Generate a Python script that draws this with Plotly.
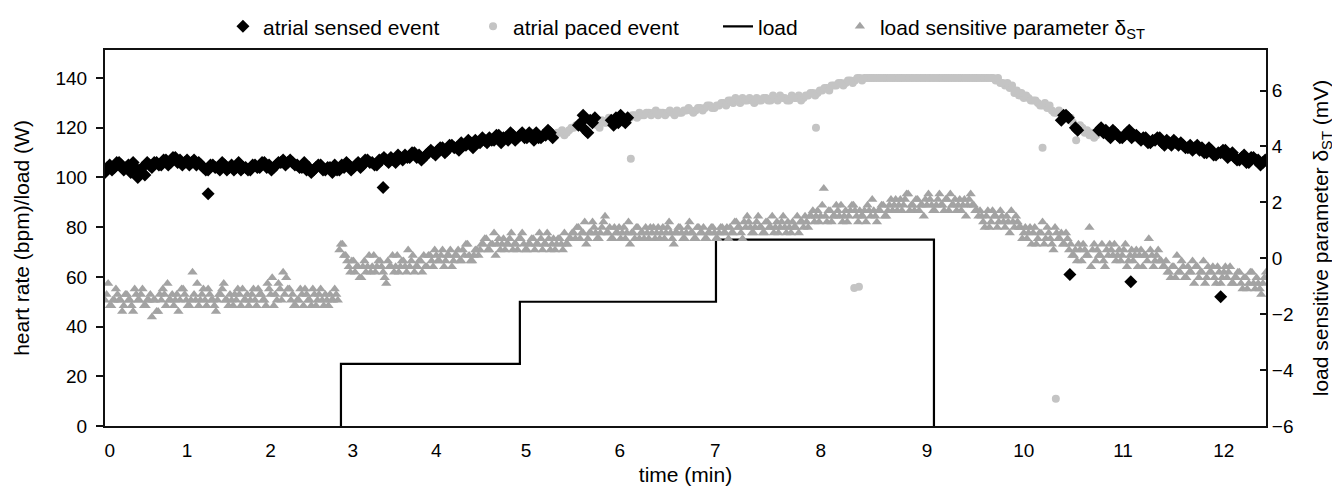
import plotly.graph_objects as go

# ---- x axis: beat index, labelled in minutes ----
minute_labels = [str(m) for m in range(13)]
minute_beats = [6, 105, 212, 317, 424, 539, 659, 781, 916, 1052, 1176, 1303, 1432]
beat_max = 1486

# ---- heart rate (bpm), two interleaved sample sets, every 6 beats ----
hr_step = 6
hr_values_a = [
    102, 105, 104, 106, 103, 105, 106, 100, 104, 106,
    104, 106, 105, 107, 106, 108, 107, 106, 105, 107,
    106, 104, 103, 105, 104, 106, 103, 105, 104, 103,
    104, 103, 105, 104, 106, 105, 104, 106, 107, 106,
    106, 105, 104, 103, 102, 104, 105, 103, 104, 105,
    103, 104, 105, 104, 106, 105, 107, 106, 105, 107,
    107, 108, 106, 108, 109, 108, 110, 109, 108, 110,
    110, 111, 112, 111, 113, 112, 114, 113, 114, 115,
    114, 115, 116, 115, 117, 116, 115, 117, 116, 118,
    116, 117, 118, 116, 117, 118, 117, 118, 117, 119,
    120, 121, 125, 118, 122, 121, 123, 122, 123, 124,
    125, 122, 124, 125, 126, 125, 126, 126, 125, 126,
    126, 126, 127, 126, 127, 127, 127, 128, 128, 129,
    128, 129, 130, 131, 130, 131, 132, 131, 131, 132,
    131, 132, 131, 132, 133, 132, 131, 132, 133, 132,
    133, 134, 134, 135, 136, 137, 137, 138, 138, 139,
    139, 140, 140, 140, 140, 140, 140, 140, 140, 140,
    140, 140, 140, 140, 140, 140, 140, 140, 140, 140,
    140, 140, 140, 140, 140, 140, 140, 140, 140, 140,
    139, 138, 137, 136, 134, 133, 132, 132, 131, 130,
    129, 128, 127, 126, 123, 125, 124, 120, 121, 118,
    117, 116, 119, 118, 117, 119, 117, 116, 118, 116,
    117, 115, 116, 114, 115, 116, 113, 114, 115, 113,
    113, 112, 111, 113, 112, 110, 111, 109, 110, 111,
    109, 108, 107, 109, 106, 108, 107, 106,
]
hr_values_b = [
    104, 103, 106, 105, 104, 102, 104, 103, 101, 105,
    106, 105, 107, 105, 108, 106, 105, 107, 106, 105,
    105, 103, 105, 104, 103, 105, 104, 103, 106, 104,
    103, 105, 104, 106, 104, 103, 105, 106, 105, 107,
    105, 104, 106, 104, 103, 105, 103, 104, 102, 103,
    105, 106, 103, 105, 104, 107, 106, 105, 107, 108,
    106, 107, 109, 107, 108, 110, 108, 107, 109, 111,
    109, 112, 110, 113, 112, 111, 113, 115, 112, 114,
    116, 114, 115, 117, 114, 116, 118, 115, 117, 116,
    118, 115, 116, 117, 119, 116, 118, 119, 118, 120,
    121, 122, 119, 123, 124, 120, 122, 124, 121, 122,
    123, 124, 125, 124, 125, 126, 125, 127, 126, 125,
    127, 125, 126, 127, 128, 126, 128, 127, 129, 128,
    129, 130, 129, 131, 132, 130, 131, 132, 130, 131,
    132, 131, 133, 131, 132, 131, 133, 132, 131, 133,
    134, 133, 135, 136, 135, 137, 138, 137, 139, 138,
    140, 139, 140, 140, 140, 140, 140, 140, 140, 140,
    140, 140, 140, 140, 140, 140, 140, 140, 140, 140,
    140, 140, 140, 140, 140, 140, 140, 140, 140, 140,
    140, 138, 138, 137, 135, 134, 133, 131, 131, 129,
    130, 129, 126, 127, 125, 124, 122, 119, 120, 119,
    118, 117, 120, 119, 116, 118, 116, 117, 119, 117,
    116, 116, 114, 115, 116, 114, 115, 113, 114, 114,
    112, 113, 112, 111, 110, 112, 109, 110, 111, 108,
    110, 107, 108, 106, 108, 107, 105, 107,
]
# S = atrial sensed, P = atrial paced
hr_mode = ("S" * 96 + "P" * 5 + "S" * 4 + "P" * 3 + "S" * 4 + "P" * 92
           + "S" * 2 + "P" + "S" + "P" * 4 + "S" * 36)

# isolated events (beat index, bpm)
sensed_extra_beats = [132, 356, 1235, 1313, 1428]
sensed_extra_hr = [93.5, 96, 61, 58, 52]
paced_extra_beats = [673, 910, 959, 965, 1200, 1243, 1217]
paced_extra_hr = [107.5, 120, 55.5, 56, 112, 115, 11]

# ---- load (W) ----
load_beats = [302, 302, 531, 782, 1061]
load_watts = [0, 25, 50, 75, 0]

# ---- load sensitive parameter dST (mV), two interleaved sample sets, every 4 beats ----
st_step = 4
st_values_a = [
    -1.5, -0.9, -1.7, -1.5, -1.3, -1.5, -1.7, -1.3, -1.5, -1.9, -1.3, -1.5, -1.1, -1.7, -1.5,
    -2.1, -1.5, -1.9, -1.5, -1.3, -0.9, -1.5, -1.7, -1.3, -1.5, -1.1, -1.5, -1.7, -0.5, -1.5,
    -1.7, -1.3, -1.5, -1.1, -1.5, -1.7, -1.5, -1.3, -0.9, -1.5, -1.3, -1.7, -1.5, -1.3, -1.1,
    -1.5, -1.7, -1.3, -1.5, -1.1, -1.3, -1.5, -0.9, -1.3, -1.7, -1.5, -1.1, -0.5, -0.7, -1.1,
    -1.3, -1.7, -1.5, -1.3, -1.1, -1.5, -1.7, -1.3, -1.5, -1.1, -1.7, -1.5, -1.3, -1.5, -1.3,
    0.3, 0.5, 0.1,
    -0.3, -0.1, -0.5, -0.3, -0.7, -0.1, -0.3, -0.5, 0.1, -0.3, -0.1, -0.5, -0.9, -0.3, 0.1,
    -0.3, -0.5, -0.1, -0.3, 0.3, -0.1, -0.5, -0.3, -0.1, 0.1, -0.3,
    0.1, -0.3, 0.1, -0.1, 0.3, -0.1, 0.1, -0.3, 0.1, 0.3, -0.1, 0.1, 0.5, -0.1, 0.1, 0.3,
    0.3, 0.5, 0.7, 0.3, 0.5, 0.1, 0.7, 0.5, 0.3, 0.5, 0.9, 0.5, 0.3, 0.7, 0.5,
    0.3, 0.5, 0.7, 0.5, 0.9, 0.3, 0.5, 0.7, 0.5, 0.3, 0.7, 0.5, 0.9, 0.5,
    0.7, 0.9, 1.1, 0.7, 0.9, 0.5, 0.9, 1.3, 0.9, 0.7, 1.1, 1.5, 0.9,
    0.7, 1.1, 0.9, 0.7, 1.1, 0.9, 0.5, 0.9, 1.1, 0.7, 0.9, 1.1, 0.7,
    0.9, 0.7, 1.1, 0.9, 0.7, 1.1, 0.9, 0.5, 0.9, 1.1, 0.7, 0.9, 1.3,
    0.9, 0.7, 1.1, 0.9, 0.7, 0.9, 1.1, 0.9, 0.7, 1.1, 0.9, 1.1,
    1.1, 0.9, 1.3, 1.1, 0.7, 1.1, 1.3, 0.9, 1.1, 1.5, 1.1, 0.9, 1.3,
    1.1, 0.9, 1.3, 1.1, 1.5, 0.9, 1.1, 1.3, 1.1, 0.9, 1.3, 1.5, 1.1,
    1.5, 1.3, 1.7, 1.5, 2.5, 1.3, 1.7, 1.5, 1.9, 1.5, 1.3, 1.7, 1.5,
    1.9, 1.7, 1.3, 1.5, 1.7, 1.9, 1.5, 1.7, 1.3, 1.7, 1.9, 1.5,
    1.9, 1.7, 2.1, 1.9, 1.7, 2.1, 2.3, 1.9, 1.7, 2.1, 1.9, 1.5, 1.9, 2.1, 1.7,
    1.9, 2.3, 1.9, 2.1, 1.7, 1.9, 2.1, 1.9, 1.7, 2.1, 1.9, 2.3, 1.9, 1.7,
    1.7, 1.3, 1.5, 1.1, 1.7, 1.5, 1.3, 1.5, 1.1, 1.3, 1.7, 1.1, 1.3,
    1.1, 0.9, 0.7, 1.1, 0.9, 0.5, 0.9, 1.3, 0.7, 0.9, 0.5, 1.1, 0.7, 0.9, 0.5, 0.7,
    0.5, 0.1, -0.1, 0.3, 0.5, 0.1, 1.1, 0.3, -0.1, 0.1, 0.5, -0.3, 0.1, 0.3, 0.5,
    0.1, -0.1, 0.3, -0.3, 0.1, -0.1, 0.3, 0.1, -0.3, 0.1, 0.7, 0.1, -0.1, 0.3,
    -0.1, -0.3, -0.5, -0.7, -0.3, 0.1, -0.5, -0.3, -0.7, -0.5, -0.1, -0.3, -0.7, -0.5, -0.9,
    -0.3, -0.5, -0.7, -0.3, -0.9, -0.5, -0.7, -0.3, -0.9, -0.7, -0.5, -1.1, -0.7, -0.9,
    -0.5, -1.1, -0.9, -1.3, -0.7,
]
st_values_b = [
    -1.3, -1.7, -1.5, -1.1, -1.5, -1.9, -1.3, -1.5, -1.7, -1.1, -1.5, -1.3, -1.7, -1.5, -1.3,
    -1.5, -1.9, -1.3, -1.1, -1.7, -1.5, -1.3, -1.5, -1.9, -1.1, -1.3, -1.7, -1.5, -1.3, -0.9,
    -1.5, -1.1, -1.7, -1.3, -1.5, -1.9, -1.3, -1.1, -1.5, -1.7, -1.5, -1.3, -1.1, -1.7, -1.5,
    -1.3, -1.5, -1.1, -1.7, -1.3, -1.5, -1.7, -1.1, -0.7, -1.3, -0.9, -1.5, -1.3, -1.1, -1.5,
    -1.7, -1.5, -1.1, -1.7, -1.3, -1.5, -1.1, -1.7, -1.3, -1.5, -1.3, -1.7, -1.5, -1.1, -1.5,
    0.5, 0.1, -0.1,
    -0.5, -0.1, -0.3, -0.7, -0.3, -0.5, 0.1, -0.3, -0.5, -0.1, -0.3, -0.7, -0.1, -0.3, -0.5,
    0.1, -0.3, -0.1, -0.5, -0.3, 0.1, -0.3, -0.1, -0.5, -0.3, 0.1,
    -0.1, 0.3, -0.1, 0.1, -0.3, 0.1, 0.3, -0.1, 0.1, -0.1, 0.3, 0.5, 0.1, -0.1, 0.3, 0.1,
    0.5, 0.7, 0.3, 0.5, 0.9, 0.5, 0.3, 0.7, 0.5, 0.7, 0.3, 0.5, 0.7, 0.9, 0.3,
    0.5, 0.7, 0.3, 0.5, 0.7, 0.5, 0.9, 0.3, 0.7, 0.5, 0.7, 0.3, 0.5, 0.7,
    0.9, 0.7, 1.1, 0.9, 1.3, 0.7, 0.9, 1.1, 0.7, 0.9, 1.3, 0.9, 1.1,
    0.7, 0.9, 1.1, 0.9, 0.7, 1.3, 0.9, 0.7, 1.1, 0.9, 0.7, 0.9, 1.1,
    1.1, 0.9, 0.7, 1.1, 0.9, 1.3, 0.7, 0.9, 1.1, 0.9, 0.7, 1.1, 0.9,
    0.7, 1.1, 0.9, 1.1, 0.7, 0.9, 1.1, 0.7, 0.9, 1.1, 0.9, 0.7,
    0.9, 1.3, 1.1, 0.9, 1.3, 1.5, 1.1, 0.9, 1.3, 1.1, 0.9, 1.3, 1.1,
    1.5, 1.1, 0.9, 1.3, 1.1, 1.3, 0.9, 1.1, 1.5, 1.3, 1.1, 1.3, 1.5,
    1.7, 1.5, 1.3, 1.9, 1.5, 1.7, 1.3, 1.5, 1.7, 1.9, 1.5, 1.3, 1.7,
    1.9, 1.5, 1.7, 1.5, 1.3, 1.7, 2.1, 1.5, 1.7, 1.9, 1.5, 1.7,
    2.1, 1.9, 1.7, 2.1, 1.9, 2.3, 1.7, 1.9, 2.1, 1.7, 1.9, 2.1, 2.3, 1.9, 1.7,
    2.1, 1.9, 1.7, 2.1, 2.3, 1.9, 1.7, 2.1, 1.9, 1.5, 2.1, 1.9, 1.7, 1.5,
    1.5, 1.1, 1.7, 1.3, 1.5, 1.1, 1.7, 1.3, 1.5, 0.9, 1.3, 1.5, 1.1,
    0.7, 1.1, 0.9, 0.5, 1.1, 0.7, 0.9, 0.5, 1.1, 0.7, 0.3, 0.9, 0.7, 0.5, 0.9, 0.3,
    0.1, 0.3, 0.5, -0.1, 0.3, 0.1, -0.3, 0.5, 0.3, 0.1, -0.1, 0.3, 0.5, 0.1, -0.1,
    0.3, 0.1, 0.5, -0.1, 0.3, 0.1, -0.3, 0.3, 0.1, -0.1, 0.3, -0.3, 0.1, -0.1,
    -0.3, -0.1, -0.5, -0.3, -0.7, -0.5, -0.1, -0.7, -0.3, -0.5, -0.9, -0.3, -0.5, -0.1, -0.7,
    -0.5, -0.3, -0.9, -0.5, -0.7, -0.3, -0.5, -0.9, -0.7, -0.5, -0.9, -0.7, -1.1, -0.5,
    -0.9, -0.7, -1.1, -0.9, -0.5,
]

# ---- build traces ----
hr_beats_a = [i * hr_step for i in range(len(hr_values_a))]
hr_beats_b = [i * hr_step + hr_step // 2 for i in range(len(hr_values_b))]
sensed_x, sensed_y, paced_x, paced_y = [], [], [], []
for beats, vals in ((hr_beats_a, hr_values_a), (hr_beats_b, hr_values_b)):
    for b, v, m in zip(beats, vals, hr_mode):
        if m == "S":
            sensed_x.append(b)
            sensed_y.append(v)
        else:
            paced_x.append(b)
            paced_y.append(v)
sensed_x += sensed_extra_beats
sensed_y += sensed_extra_hr
paced_x += paced_extra_beats
paced_y += paced_extra_hr

st_x = [i * st_step for i in range(len(st_values_a))] + \
       [i * st_step + st_step // 2 for i in range(len(st_values_b))]
st_y = st_values_a + st_values_b

FONT = "Liberation Sans, Arial, sans-serif"
LEG_FONT = dict(family=FONT, size=21, color="#000000")

fig = go.Figure()
fig.add_trace(go.Scatter(
    x=st_x, y=st_y, mode="markers", yaxis="y2",
    name="load sensitive parameter δ<sub>ST</sub>",
    marker=dict(symbol="triangle-up", size=9, color="#a3a3a3"),
    legend="legend4",
))
fig.add_trace(go.Scatter(
    x=paced_x, y=paced_y, mode="markers", name="atrial paced event",
    marker=dict(symbol="circle", size=8, color="#c4c4c4"),
    legend="legend2",
))
fig.add_trace(go.Scatter(
    x=sensed_x, y=sensed_y, mode="markers", name="atrial sensed event",
    marker=dict(symbol="diamond", size=10, color="#000000"),
    legend="legend",
))
fig.add_trace(go.Scatter(
    x=load_beats, y=load_watts, mode="lines", name="load",
    line=dict(color="#000000", width=2.2, shape="hv"),
    legend="legend3",
))

def leg(xpos):
    return dict(orientation="h", x=xpos, xanchor="left", y=1.062, yanchor="middle",
                font=LEG_FONT, bgcolor="rgba(0,0,0,0)", borderwidth=0)

fig.update_layout(
    width=1340, height=487,
    margin=dict(l=97, r=82, t=42, b=69, autoexpand=False),
    paper_bgcolor="white", plot_bgcolor="white",
    font=dict(family=FONT, size=19, color="#000000"),
    showlegend=True,
    legend=leg(0.1016),
    legend2=leg(0.317),
    legend3=leg(0.528),
    legend4=leg(0.633),
    xaxis=dict(
        range=[0, beat_max], tickvals=minute_beats, ticktext=minute_labels,
        showgrid=False, zeroline=False, showline=True, linecolor="#111111", linewidth=2,
        mirror=True, ticks="", ticklabelstandoff=6, automargin=False,
        title=dict(text="time (min)", standoff=8, font=dict(size=21)),
    ),
    yaxis=dict(
        range=[0, 151.3], tickvals=list(range(0, 141, 20)),
        showgrid=False, zeroline=False, showline=True, linecolor="#111111", linewidth=2,
        ticks="outside", ticklen=7, tickcolor="#111111", tickwidth=1.5,
        ticklabelstandoff=5, automargin=False,
        title=dict(text="heart rate (bpm)/load (W)", standoff=20, font=dict(size=21)),
    ),
    yaxis2=dict(
        range=[-6, 7.45], tickvals=list(range(-6, 7, 2)), overlaying="y", side="right",
        showgrid=False, zeroline=False, showline=True, linecolor="#111111", linewidth=2,
        ticks="inside", ticklen=6, tickcolor="#111111", tickwidth=1.5, automargin=False,
        title=dict(text="load sensitive parameter δ<sub>ST</sub> (mV)", standoff=20,
                   font=dict(size=21)),
    ),
)

fig.write_html("out.html")
